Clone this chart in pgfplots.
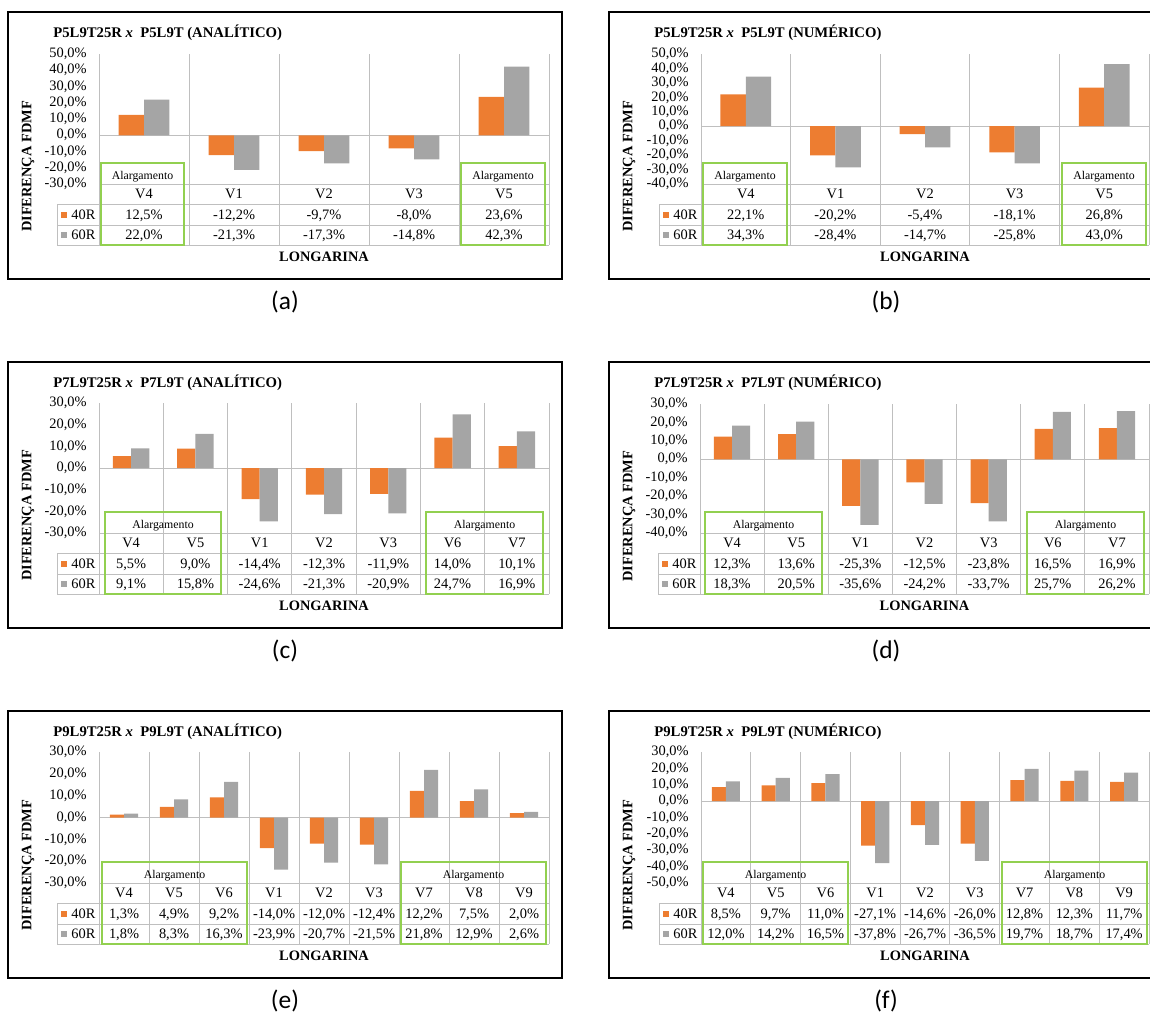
\documentclass[border=0pt]{standalone}
\usepackage{pgfplots}
\pgfplotsset{compat=1.18}
\usepackage{pgfplotstable}
\usepackage{fontspec}
\setmainfont{Liberation Serif}
\newfontfamily\capfont{Carlito}
\definecolor{c40}{HTML}{ED7D31}
\definecolor{c60}{HTML}{A5A5A5}
\definecolor{gridc}{HTML}{BFBFBF}
\definecolor{boxg}{HTML}{92D050}
\newcommand\fs{\fontsize{7.2}{8.6}\selectfont}
\pgfkeys{/pgf/number format/.cd,fixed,fixed zerofill,precision=1,use comma,assume math mode=true}

\pgfplotstableread{
x lab a b
0 V4 12.5 22.0
1 V1 -12.2 -21.3
2 V2 -9.7 -17.3
3 V3 -8.0 -14.8
4 V5 23.6 42.3
}\dataA
\pgfplotstableread{
x lab a b
0 V4 22.1 34.3
1 V1 -20.2 -28.4
2 V2 -5.4 -14.7
3 V3 -18.1 -25.8
4 V5 26.8 43.0
}\dataB
\pgfplotstableread{
x lab a b
0 V4 5.5 9.1
1 V5 9.0 15.8
2 V1 -14.4 -24.6
3 V2 -12.3 -21.3
4 V3 -11.9 -20.9
5 V6 14.0 24.7
6 V7 10.1 16.9
}\dataC
\pgfplotstableread{
x lab a b
0 V4 12.3 18.3
1 V5 13.6 20.5
2 V1 -25.3 -35.6
3 V2 -12.5 -24.2
4 V3 -23.8 -33.7
5 V6 16.5 25.7
6 V7 16.9 26.2
}\dataD
\pgfplotstableread{
x lab a b
0 V4 1.3 1.8
1 V5 4.9 8.3
2 V6 9.2 16.3
3 V1 -14.0 -23.9
4 V2 -12.0 -20.7
5 V3 -12.4 -21.5
6 V7 12.2 21.8
7 V8 7.5 12.9
8 V9 2.0 2.6
}\dataE
\pgfplotstableread{
x lab a b
0 V4 8.5 12.0
1 V5 9.7 14.2
2 V6 11.0 16.5
3 V1 -27.1 -37.8
4 V2 -14.6 -26.7
5 V3 -26.0 -36.5
6 V7 12.8 19.7
7 V8 12.3 18.7
8 V9 11.7 17.4
}\dataF

\pgfplotsset{panelax/.style={
  scale only axis, anchor=south west,
  xmin=-0.5, enlargelimits=false, clip=false,
  axis line style={draw=none},
  xtick=\empty,
  ytick distance=10,
  major tick length=0pt,
  yticklabel style={font=\fs, inner sep=0pt, anchor=east, xshift=-6pt},
  yticklabel={\pgfmathprintnumber[fixed,fixed zerofill,precision=1,use comma,assume math mode=true]{\tick}\%},
  ybar, bar width=0.283,
}}

\newcommand\panel[1]{%
  \pgfmathsetmacro\AX{\PL*0.5}%
  \pgfmathsetmacro\AY{-\PB*0.5}%
  \pgfmathsetmacro\AW{(\PR-\PL)*0.5}%
  \pgfmathsetmacro\AH{(\PB-\PT)*0.5}%
  \pgfmathsetmacro\XM{\PN-0.5}%
  \pgfmathsetmacro\CW{(\PR-\PL)/\PN}%
  \pgfmathsetmacro\TL{\PL-42}%
  \pgfmathtruncatemacro\NM{\PN-1}%
  \begin{scope}[x=0.5pt,y=-0.5pt,font=\fs]
    \draw[line width=0.75pt] (\FXa,\FYa) rectangle (\FXb,\FYb);
    \node[anchor=base west,font=\fontsize{7.35}{9}\selectfont\bfseries,inner sep=0pt] at ({\FXa+45},{\FYa+25}) {\Title};
    \foreach \k in {0,...,\PN} {\draw[gridc,line width=0.5pt] ({\PL+\k*\CW},\PT) -- ({\PL+\k*\CW},{\PB+61});}
    \draw[gridc,line width=0.5pt] (\PL,\PB) -- (\PR,\PB);
    \foreach \dy in {20,41,61} {\draw[gridc,line width=0.5pt] (\TL,{\PB+\dy}) -- (\PR,{\PB+\dy});}
    \draw[gridc,line width=0.5pt] (\TL,{\PB+20}) -- (\TL,{\PB+61});
    \fill[c40] ({\TL+4},{\PB+27.5}) rectangle ({\TL+10},{\PB+33.5});
    \fill[c60] ({\TL+4},{\PB+48}) rectangle ({\TL+10},{\PB+54});
    \node[anchor=base west,inner sep=0pt] at ({\TL+14},{\PB+35.3}) {40R};
    \node[anchor=base west,inner sep=0pt] at ({\TL+14},{\PB+55.8}) {60R};
    \foreach \k in {0,...,\NM} {
      \pgfmathsetmacro\cx{\PL+(\k+0.5)*\CW}
      \pgfplotstablegetelem{\k}{lab}\of#1\edef\LAB{\pgfplotsretval}
      \pgfplotstablegetelem{\k}{a}\of#1\edef\VA{\pgfplotsretval}
      \pgfplotstablegetelem{\k}{b}\of#1\edef\VB{\pgfplotsretval}
      \node[anchor=base,inner sep=0pt] at (\cx,{\PB+14.8}) {\LAB};
      \node[anchor=base,inner sep=0pt] at (\cx,{\PB+35.3}) {\pgfmathprintnumber{\VA}\%};
      \node[anchor=base,inner sep=0pt] at (\cx,{\PB+55.8}) {\pgfmathprintnumber{\VB}\%};
    }
    \node[rotate=90,font=\fs\bfseries,inner sep=0pt] at ({\FXa+20},{(\PT+\PB+61)/2+17}) {DIFERENÇA FDMF};
    \node[anchor=base,font=\fs\bfseries,inner sep=0pt] at ({(\PL+\PR)/2},{\PB+77}) {LONGARINA};
    \node[anchor=base,font=\capfont\fontsize{12.7}{15}\selectfont,inner sep=0pt] at ({(\FXa+\FXb)/2},{\FYb+30.5}) {\Cap};
  \end{scope}
  \begin{axis}[panelax, at={(\AX pt,\AY pt)}, width=\AW pt, height=\AH pt, xmax=\XM, ymin=\Ymin, ymax=\Ymax]
    \draw[gridc,line width=0.5pt] (axis cs:-0.5,0) -- (axis cs:\XM,0);
    \addplot[fill=c40, draw=none, bar shift=-0.1415] table[x=x,y=a]{#1};
    \addplot[fill=c60, draw=none, bar shift=0.1415] table[x=x,y=b]{#1};
  \end{axis}
  \begin{scope}[x=0.5pt,y=-0.5pt]
    \foreach \bx/\by in \Boxes {
      \draw[boxg,line width=0.8pt] (\bx,{\PB-21}) rectangle (\by,{\PB+61});
      \node[anchor=base,inner sep=0pt,font=\fontsize{5.9}{7}\selectfont] at ({(\bx+\by)/2},{\PB-4.5}) {Alargamento};
    }
  \end{scope}
}

\begin{document}
\begin{tikzpicture}
\path[use as bounding box] (0,0) rectangle (575pt,-507pt);
\clip (0,0) rectangle (575pt,-507pt);
% (a)
\def\PL{99}\def\PR{549}\def\PT{54}\def\PB{184}\def\PN{5}
\def\Ymin{-30}\def\Ymax{50}
\def\Title{P5L9T25R \textit{x}~ P5L9T (ANALÍTICO)}
\def\Boxes{101/184,461/545}
\def\FXa{8}\def\FYa{12}\def\FXb{562}\def\FYb{279}\def\Cap{(a)}
\panel\dataA
% (b)
\def\PL{701}\def\PR{1149}\def\PT{54}\def\PB{184}\def\PN{5}
\def\Ymin{-40}\def\Ymax{50}
\def\Title{P5L9T25R \textit{x}~ P5L9T (NUMÉRICO)}
\def\Boxes{703/787,1062/1146}
\def\FXa{609}\def\FYa{12}\def\FXb{1163}\def\FYb{279}\def\Cap{(b)}
\panel\dataB
% (c)
\def\PL{99}\def\PR{549}\def\PT{403}\def\PB{533}\def\PN{7}
\def\Ymin{-30}\def\Ymax{30}
\def\Title{P7L9T25R \textit{x}~ P7L9T (ANALÍTICO)}
\def\Boxes{105/221,426/543}
\def\FXa{8}\def\FYa{362}\def\FXb{562}\def\FYb{628}\def\Cap{(c)}
\panel\dataC
% (d)
\def\PL{700}\def\PR{1149}\def\PT{404}\def\PB{533}\def\PN{7}
\def\Ymin{-40}\def\Ymax{30}
\def\Title{P7L9T25R \textit{x}~ P7L9T (NUMÉRICO)}
\def\Boxes{705/822,1027/1144}
\def\FXa{609}\def\FYa{362}\def\FXb{1163}\def\FYb{628}\def\Cap{(d)}
\panel\dataD
% (e)
\def\PL{99}\def\PR{549}\def\PT{752}\def\PB{883}\def\PN{9}
\def\Ymin{-30}\def\Ymax{30}
\def\Title{P9L9T25R \textit{x}~ P9L9T (ANALÍTICO)}
\def\Boxes{102/247,401/546}
\def\FXa{8}\def\FYa{711}\def\FXb{562}\def\FYb{978}\def\Cap{(e)}
\panel\dataE
% (f)
\def\PL{701}\def\PR{1149}\def\PT{752}\def\PB{883}\def\PN{9}
\def\Ymin{-50}\def\Ymax{30}
\def\Title{P9L9T25R \textit{x}~ P9L9T (NUMÉRICO)}
\def\Boxes{703/848,1002/1147}
\def\FXa{609}\def\FYa{711}\def\FXb{1163}\def\FYb{978}\def\Cap{(f)}
\panel\dataF
\end{tikzpicture}
\end{document}
